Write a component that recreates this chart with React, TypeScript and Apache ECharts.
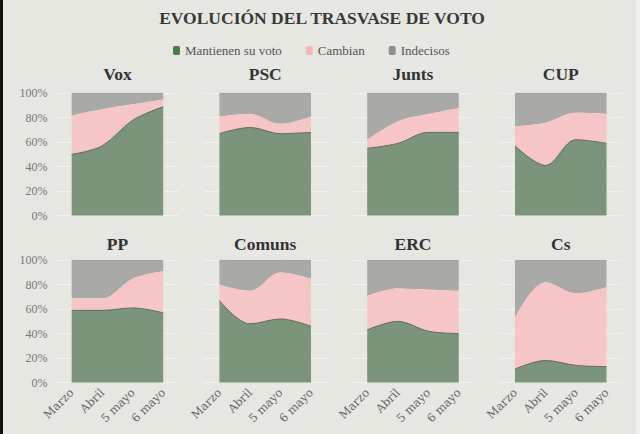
import React, { useEffect, useRef } from "react";
import * as echarts from "echarts";

const CATEGORIES = ["Marzo", "Abril", "5 mayo", "6 mayo"];
const SERIES_NAMES = ["Mantienen su voto", "Cambian", "Indecisos"];
const Y_TICKS = [0, 20, 40, 60, 80, 100];

const PARTIES = ["Vox", "PSC", "Junts", "CUP", "PP", "Comuns", "ERC", "Cs"];

const VOX_MANTIENEN = [50, 57, 78, 89];
const VOX_CAMBIAN = [32, 30, 13, 6];
const VOX_INDECISOS = [18, 13, 9, 5];

const PSC_MANTIENEN = [67, 72, 67, 68];
const PSC_CAMBIAN = [14, 11, 8, 13];
const PSC_INDECISOS = [19, 17, 25, 19];

const JUNTS_MANTIENEN = [55, 59, 68, 68];
const JUNTS_CAMBIAN = [7, 18, 15, 20];
const JUNTS_INDECISOS = [38, 23, 17, 12];

const CUP_MANTIENEN = [57, 41, 62, 59];
const CUP_CAMBIAN = [16, 35, 22, 24];
const CUP_INDECISOS = [27, 24, 16, 17];

const PP_MANTIENEN = [59, 59, 61, 57];
const PP_CAMBIAN = [10, 10, 24, 34];
const PP_INDECISOS = [31, 31, 15, 9];

const COMUNS_MANTIENEN = [67, 48, 52, 46];
const COMUNS_CAMBIAN = [13, 27, 38, 39];
const COMUNS_INDECISOS = [20, 25, 10, 15];

const ERC_MANTIENEN = [43, 50, 42, 40];
const ERC_CAMBIAN = [28, 27, 34, 35];
const ERC_INDECISOS = [29, 23, 24, 25];

const CS_MANTIENEN = [11, 18, 14, 13];
const CS_CAMBIAN = [42, 64, 59, 65];
const CS_INDECISOS = [47, 18, 27, 22];

const PARTY_DATA = [
  [VOX_MANTIENEN, VOX_CAMBIAN, VOX_INDECISOS],
  [PSC_MANTIENEN, PSC_CAMBIAN, PSC_INDECISOS],
  [JUNTS_MANTIENEN, JUNTS_CAMBIAN, JUNTS_INDECISOS],
  [CUP_MANTIENEN, CUP_CAMBIAN, CUP_INDECISOS],
  [PP_MANTIENEN, PP_CAMBIAN, PP_INDECISOS],
  [COMUNS_MANTIENEN, COMUNS_CAMBIAN, COMUNS_INDECISOS],
  [ERC_MANTIENEN, ERC_CAMBIAN, ERC_INDECISOS],
  [CS_MANTIENEN, CS_CAMBIAN, CS_INDECISOS],
];

const FONT = "'Liberation Serif', 'DejaVu Serif', serif";
const FONT_WIDE = "'DejaVu Serif', 'Liberation Serif', serif";
const BG = "#e7e7e2";
const LEGEND_COLORS = ["#4d7a4e", "#f6b7b7", "#8d8d8d"];
const AREA_COLORS = ["#7b957a", "#f5c6c5", "#a9a9a7"];
const LINE_COLORS = ["#5c6b52", "#f5c6c5", "#9a9a98"];

export default function App() {
  const ref = useRef<HTMLDivElement>(null);

  useEffect(() => {
    if (!ref.current) return;
    const chart = echarts.init(ref.current, null, { renderer: "svg" });

    const colLeft = 56.4;
    const colStep = 147.77;
    const gridW = 122.1;
    const rowTop = [93.3, 260.3];
    const gridH = 122.2;

    const grids: any[] = [];
    const xAxes: any[] = [];
    const yAxes: any[] = [];
    const series: any[] = [];
    const graphics: any[] = [];

    PARTIES.forEach((party, i) => {
      const row = Math.floor(i / 4);
      const col = i % 4;
      const left = colLeft + col * colStep;
      const top = rowTop[row];
      grids.push({ left, top, width: gridW, height: gridH, containLabel: false });
      xAxes.push({
        type: "category",
        gridIndex: i,
        data: CATEGORIES,
        boundaryGap: true,
        axisLine: { show: false },
        axisTick: { show: false },
        splitLine: { show: false },
        axisLabel: {
          show: row === 1,
          rotate: 45,
          margin: 8,
          fontSize: 11.5,
          color: "#666",
          fontFamily: FONT_WIDE,
        },
      });
      yAxes.push({
        type: "value",
        gridIndex: i,
        min: 0,
        max: 100,
        interval: 20,
        axisLine: { show: false },
        axisTick: { show: false },
        splitLine: { show: true, lineStyle: { color: "#f1f1ed", width: 1 } },
        axisLabel: {
          show: col === 0,
          formatter: "{value}%",
          margin: 9,
          fontSize: 12,
          color: "#777",
          fontFamily: FONT,
          customValues: Y_TICKS,
        },
      });
      PARTY_DATA[i].forEach((vals, s) => {
        series.push({
          type: "line",
          name: SERIES_NAMES[s],
          xAxisIndex: i,
          yAxisIndex: i,
          stack: "p" + i,
          data: vals,
          smooth: 0.35,
          symbol: "none",
          itemStyle: { color: LEGEND_COLORS[s] },
          lineStyle: {
            color: LINE_COLORS[s],
            width: s === 1 ? 0 : 1,
            opacity: s === 1 ? 0 : 1,
          },
          areaStyle: { color: AREA_COLORS[s], opacity: 1 },
          emphasis: { disabled: true },
          z: 2 + (2 - s),
        });
      });
      graphics.push({
        type: "text",
        x: left + gridW / 2,
        y: row === 0 ? 74 : 244,
        style: {
          text: party,
          fill: "#333",
          font: `bold 17.5px ${FONT}`,
          textAlign: "center",
          textVerticalAlign: "middle",
        },
      });
    });

    graphics.push({
      type: "text",
      x: 322,
      y: 17.5,
      style: {
        text: "EVOLUCIÓN DEL TRASVASE DE VOTO",
        fill: "#383838",
        font: `bold 17.5px ${FONT}`,
        textAlign: "center",
        textVerticalAlign: "middle",
      },
    });
    graphics.push({
      type: "rect",
      shape: { x: 0, y: 0, width: 3, height: 434 },
      style: { fill: "#111" },
    });
    graphics.push({
      type: "rect",
      shape: { x: 636, y: 0, width: 4, height: 434 },
      style: { fill: "#f0f0ed" },
    });

    chart.setOption({
      animation: false,
      backgroundColor: BG,
      legend: {
        data: SERIES_NAMES,
        left: 168,
        top: 39,
        icon: "roundRect",
        itemWidth: 7,
        itemHeight: 9,
        itemGap: 24,
        selectedMode: false,
        textStyle: { fontSize: 13, color: "#555", fontFamily: FONT },
      },
      grid: grids,
      xAxis: xAxes,
      yAxis: yAxes,
      series,
      graphic: graphics,
    });

    return () => chart.dispose();
  }, []);

  return (
    <div
      ref={ref}
      style={{ position: "absolute", left: 0, top: 0, width: 640, height: 434 }}
    />
  );
}
